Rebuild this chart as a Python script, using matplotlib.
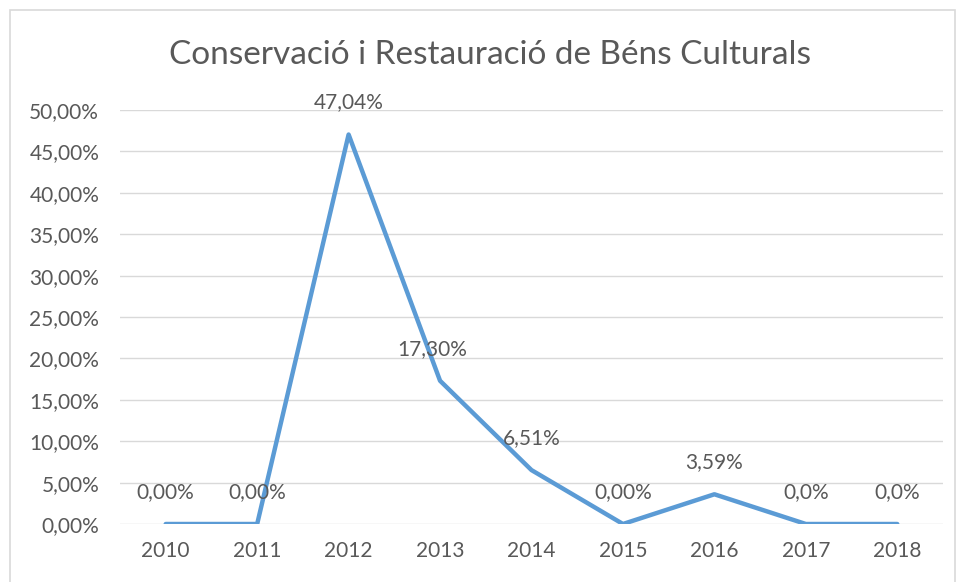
import matplotlib.pyplot as plt
from matplotlib.patches import Rectangle

years = ['2010', '2011', '2012', '2013', '2014', '2015', '2016', '2017', '2018']
values = [0.0, 0.0, 47.04, 17.30, 6.51, 0.0, 3.59, 0.0, 0.0]
labels = ['0,00%', '0,00%', '47,04%', '17,30%', '6,51%', '0,00%', '3,59%', '0,0%', '0,0%']
yticks = [0, 5, 10, 15, 20, 25, 30, 35, 40, 45, 50]

text_col = '#595959'
line_col = '#5B9BD5'
grid_col = '#D9D9D9'

plt.rcParams['font.family'] = ['Lato', 'DejaVu Sans']

W, H = 961, 582
fig = plt.figure(figsize=(W / 100, H / 100), dpi=100)
fig.patches.append(Rectangle((10 / W, -0.01), (955 - 10) / W, 1 - 10 / H + 0.01,
                             transform=fig.transFigure, fill=False,
                             edgecolor='#D9D9D9', linewidth=1.2))

# plot area: x 120..943 px, y 110 (50%) .. 524 (0%)
ax = fig.add_axes([120 / W, 1 - 524 / H, (943 - 120) / W, (524 - 110) / H])
x = list(range(len(years)))
ax.plot(x, values, color=line_col, linewidth=3.2, solid_capstyle='round', zorder=3)
ax.set_xlim(-0.5, len(years) - 0.5)
ax.set_ylim(0, 50)
ax.set_yticks(yticks)
ax.set_yticklabels([f'{v},00%' for v in yticks])
ax.set_xticks(x)
ax.set_xticklabels(years)
ax.grid(axis='y', color=grid_col, linewidth=1)
ax.set_axisbelow(True)
for s in ax.spines.values():
    s.set_visible(False)
ax.tick_params(length=0, labelsize=15, colors=text_col)
ax.tick_params(axis='x', pad=12)
ax.tick_params(axis='y', pad=15)

offsets = {3: -6}
for i, (v, lab) in enumerate(zip(values, labels)):
    ax.annotate(lab, (i, v), xytext=(offsets.get(i, 0), 23), textcoords='offset points',
                ha='center', va='center', fontsize=15, color=text_col)

fig.text(490 / W, 1 - 55 / H, 'Conservació i Restauració de Béns Culturals',
         ha='center', va='center', fontsize=24, color=text_col)

fig.savefig('out.png', dpi=100)
